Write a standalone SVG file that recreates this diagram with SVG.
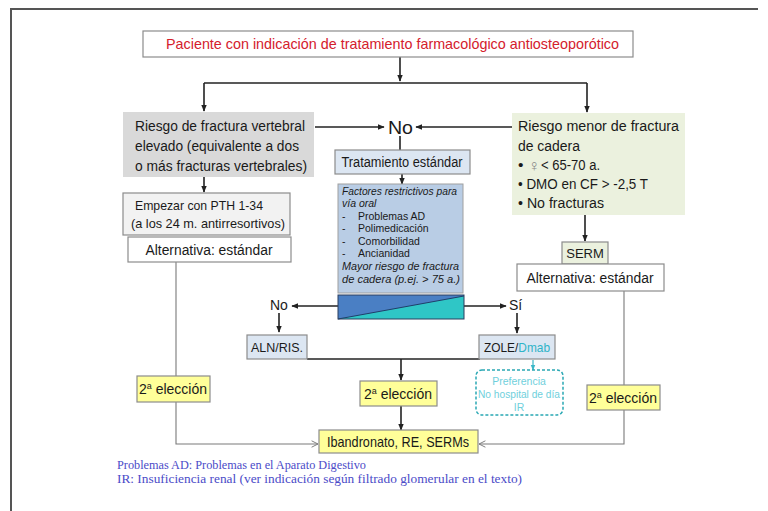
<svg xmlns="http://www.w3.org/2000/svg" width="768" height="511" viewBox="0 0 768 511">
<style>
text{font-family:"Liberation Sans",Arial,sans-serif;fill:#1a1a1a}
.box{stroke:#8c8c8c;stroke-width:1.2}
.ln{stroke:#222;stroke-width:1.6;fill:none}
.gl{stroke:#7a7a7a;stroke-width:1.1;fill:none}
.t15{font-size:15.5px}
.t14{font-size:14px}
.t13{font-size:13px}
.it{font-style:italic;font-size:10.5px}
.yel{fill:#ffff99}
.foot{font-family:"Liberation Serif",serif;fill:#4b4bc8;font-size:12px}
</style>
<defs>
<marker id="ah" viewBox="0 0 10 10" refX="9" refY="5" markerWidth="7" markerHeight="7" markerUnits="userSpaceOnUse" orient="auto">
<path d="M0,1 L10,5 L0,9 z" fill="#222"/>
</marker>
<marker id="oh" viewBox="0 0 10 10" refX="9" refY="5" markerWidth="8" markerHeight="8" markerUnits="userSpaceOnUse" orient="auto">
<path d="M1,1 L9,5 L1,9" fill="none" stroke="#7a7a7a" stroke-width="1.2"/>
</marker>
<marker id="th" viewBox="0 0 10 10" refX="9" refY="5" markerWidth="6" markerHeight="6" markerUnits="userSpaceOnUse" orient="auto">
<path d="M0,1 L10,5 L0,9 z" fill="#3bb8c8"/>
</marker>
</defs>

<rect width="768" height="511" fill="#fff"/>
<path d="M11,511 V9 H758" fill="none" stroke="#555" stroke-width="2"/>

<g id="connectors">
<path class="ln" d="M400,57 V81" marker-end="url(#ah)"/>
<path class="ln" d="M204,83 H587"/>
<path class="ln" d="M204,83 V111" marker-end="url(#ah)"/>
<path class="ln" d="M587,83 V112" marker-end="url(#ah)"/>
<path class="ln" d="M315,127 H384" marker-end="url(#ah)"/>
<path class="ln" d="M512,127 H416" marker-end="url(#ah)"/>
<path class="ln" d="M400,136 V150"/>
<path class="ln" d="M402,174 V184" marker-end="url(#ah)"/>
<path class="ln" d="M204,177 V192" marker-end="url(#ah)"/>
<path class="ln" d="M585,215 V241" marker-end="url(#ah)"/>
<path class="ln" d="M338,306 H292" marker-end="url(#ah)"/>
<path class="ln" d="M464,306 H506" marker-end="url(#ah)"/>
<path class="ln" d="M279,313 V332" marker-end="url(#ah)"/>
<path class="ln" d="M517,313 V333" marker-end="url(#ah)"/>
<path class="ln" d="M307,359 H480"/>
<path class="ln" d="M401,359 V380" marker-end="url(#ah)"/>
<path class="ln" d="M401,406 V430" marker-end="url(#ah)"/>
<path d="M533,360 V370" stroke="#3bb8c8" stroke-width="1.2" marker-end="url(#th)"/>
<path class="gl" d="M176,262 V444 H318" marker-end="url(#oh)"/>
<path class="gl" d="M624,291 V444 H479" marker-end="url(#oh)"/>
</g>

<g id="n-paciente">
<rect class="box" x="143" y="31" width="490" height="26" fill="#fff"/>
<text x="166" y="49" font-size="15" style="fill:#d4202c" textLength="453" lengthAdjust="spacingAndGlyphs">Paciente con indicación de tratamiento farmacológico antiosteoporótico</text>
</g>

<g id="n-riesgo-vert">
<rect x="123" y="112" width="191" height="65" fill="#d9d9d9"/>
<text class="t15" x="135" y="131" textLength="170" lengthAdjust="spacingAndGlyphs">Riesgo de fractura vertebral</text>
<text class="t15" x="135" y="151" textLength="164" lengthAdjust="spacingAndGlyphs">elevado (equivalente a dos</text>
<text class="t15" x="135" y="171" textLength="172" lengthAdjust="spacingAndGlyphs">o más fracturas vertebrales)</text>
</g>

<g id="n-no-top">
<text x="388" y="134" font-size="19" textLength="25" lengthAdjust="spacingAndGlyphs">No</text>
</g>

<g id="n-riesgo-cadera">
<rect x="512" y="113" width="173" height="102" fill="#ebf1de"/>
<text class="t15" x="518" y="131" textLength="161" lengthAdjust="spacingAndGlyphs">Riesgo menor de fractura</text>
<text class="t15" x="518" y="151" textLength="62" lengthAdjust="spacingAndGlyphs">de cadera</text>
<text class="t15" x="518" y="170">•</text>
<text x="528" y="171" font-size="16" style="fill:#888">♀</text>
<text class="t15" x="541" y="170" textLength="59" lengthAdjust="spacingAndGlyphs">&lt; 65-70 a.</text>
<text class="t15" x="518" y="189" textLength="130" lengthAdjust="spacingAndGlyphs">• DMO en CF &gt; -2,5 T</text>
<text class="t15" x="518" y="208" textLength="86" lengthAdjust="spacingAndGlyphs">• No fracturas</text>
</g>

<g id="n-estandar">
<rect class="box" x="335" y="150" width="135" height="24" fill="#dce6f2"/>
<text class="t14" x="402" y="167" text-anchor="middle" textLength="121" lengthAdjust="spacingAndGlyphs">Tratamiento estándar</text>
</g>

<g id="n-factores">
<rect x="338" y="184" width="125" height="109" fill="#b9cde5" stroke="#a0a0a0" stroke-width="1"/>
<text class="it" x="342" y="195" textLength="115" lengthAdjust="spacingAndGlyphs">Factores restrictivos para</text>
<text class="it" x="342" y="207">vía oral</text>
<text x="342" y="220" font-size="10.5">-</text><text x="358" y="220" font-size="10.5">Problemas AD</text>
<text x="342" y="232" font-size="10.5">-</text><text x="358" y="232" font-size="10.5">Polimedicación</text>
<text x="342" y="245" font-size="10.5">-</text><text x="358" y="245" font-size="10.5">Comorbilidad</text>
<text x="342" y="257" font-size="10.5">-</text><text x="358" y="257" font-size="10.5">Ancianidad</text>
<text class="it" x="342" y="270" textLength="117" lengthAdjust="spacingAndGlyphs">Mayor riesgo de fractura</text>
<text class="it" x="342" y="283" textLength="118" lengthAdjust="spacingAndGlyphs">de cadera (p.ej. &gt; 75 a.)</text>
</g>

<g id="n-gradiente">
<rect x="338" y="295" width="126" height="24" fill="#4a7fc4"/>
<path d="M338,319 L464,296 V319 Z" fill="#2fc6c6"/>
<path d="M338,319 L464,296" stroke="#1f3f6a" stroke-width="1"/>
<rect x="338" y="295" width="126" height="24" fill="none" stroke="#2a3f5f" stroke-width="1"/>
</g>

<g id="n-no-mid">
<text x="270" y="310" font-size="14">No</text>
</g>
<g id="n-si">
<text x="509" y="310" font-size="14">Sí</text>
</g>

<g id="n-empezar">
<rect class="box" x="123" y="193" width="167" height="42" fill="#f2f2f2"/>
<text class="t13" x="135" y="210" textLength="128" lengthAdjust="spacingAndGlyphs">Empezar con PTH 1-34</text>
<text class="t13" x="131" y="228" textLength="154" lengthAdjust="spacingAndGlyphs">(a los 24 m. antirresortivos)</text>
</g>

<g id="n-alt-left">
<rect class="box" x="128" y="237" width="163" height="25" fill="#fff"/>
<text class="t14" x="209" y="255" text-anchor="middle" textLength="127" lengthAdjust="spacingAndGlyphs">Alternativa: estándar</text>
</g>

<g id="n-serm">
<rect class="box" x="562" y="242" width="46" height="22" fill="#ebf1de"/>
<text class="t13" x="585" y="258" text-anchor="middle">SERM</text>
</g>

<g id="n-alt-right">
<rect class="box" x="517" y="264" width="147" height="27" fill="#fff"/>
<text class="t14" x="590" y="283" text-anchor="middle" textLength="127" lengthAdjust="spacingAndGlyphs">Alternativa: estándar</text>
</g>

<g id="n-aln">
<rect class="box" x="247" y="335" width="60" height="24" fill="#dce6f2"/>
<text class="t13" x="277" y="352" text-anchor="middle" textLength="52" lengthAdjust="spacingAndGlyphs">ALN/RIS.</text>
</g>

<g id="n-zole">
<rect class="box" x="479" y="335" width="76" height="24" fill="#dce6f2"/>
<text class="t13" x="517" y="352" text-anchor="middle" textLength="66" lengthAdjust="spacingAndGlyphs">ZOLE/<tspan style="fill:#2fb4c8">Dmab</tspan></text>
</g>

<g id="n-preferencia">
<rect x="476" y="370" width="87" height="45" rx="6" fill="#fff" stroke="#2aa8b4" stroke-width="1.5" stroke-dasharray="3,2"/>
<text x="519" y="385" font-size="10.5" text-anchor="middle" style="fill:#6fd0dc">Preferencia</text>
<text x="519" y="398" font-size="10.5" text-anchor="middle" style="fill:#6fd0dc" textLength="82" lengthAdjust="spacingAndGlyphs">No hospital de día</text>
<text x="519" y="411" font-size="10.5" text-anchor="middle" style="fill:#6fd0dc">IR</text>
</g>

<g id="n-2a-center">
<rect class="box yel" x="360" y="381" width="77" height="25"/>
<text class="t14" x="398" y="399" text-anchor="middle">2<tspan font-size="9" dy="-5">a</tspan><tspan dy="5"> elección</tspan></text>
</g>

<g id="n-2a-left">
<rect class="box yel" x="137" y="376" width="73" height="26"/>
<text class="t14" x="173" y="394" text-anchor="middle">2<tspan font-size="9" dy="-5">a</tspan><tspan dy="5"> elección</tspan></text>
</g>

<g id="n-2a-right">
<rect class="box yel" x="587" y="385" width="73" height="25"/>
<text class="t14" x="623" y="403" text-anchor="middle">2<tspan font-size="9" dy="-5">a</tspan><tspan dy="5"> elección</tspan></text>
</g>

<g id="n-ibandronato">
<rect class="box yel" x="319" y="430" width="159" height="23"/>
<text x="398" y="447" font-size="14.5" text-anchor="middle" textLength="142" lengthAdjust="spacingAndGlyphs">Ibandronato, RE, SERMs</text>
</g>

<g id="footnotes">
<text class="foot" x="117" y="469" textLength="249" lengthAdjust="spacingAndGlyphs">Problemas AD: Problemas en el Aparato Digestivo</text>
<text class="foot" x="117" y="483" textLength="405" lengthAdjust="spacingAndGlyphs">IR: Insuficiencia renal (ver indicación según filtrado glomerular en el texto)</text>
</g>
</svg>
